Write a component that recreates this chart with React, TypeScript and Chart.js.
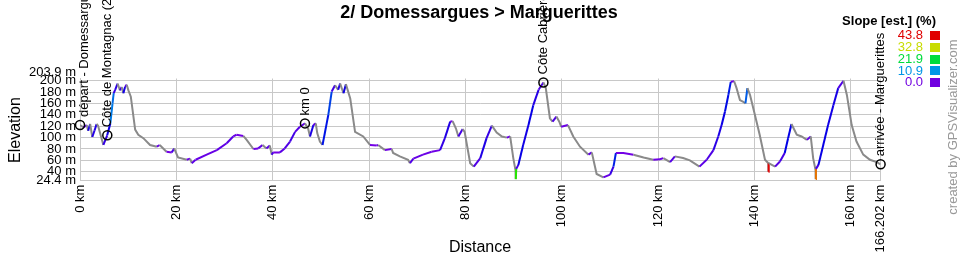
import { useEffect, useRef } from "react";
import { Chart, registerables } from "chart.js";

Chart.register(...registerables);

const TITLE = "2/ Domessargues > Marguerittes";
const X_TITLE = "Distance";
const Y_TITLE = "Elevation";
const LEGEND_TITLE = "Slope [est.] (%)";
const CREDIT = "created by GPSVisualizer.com";

// profile (km, m)
const distKm = [
  0, 0.7, 1.4, 1.7, 2.1, 2.55, 3.0, 3.45, 3.75, 4.85, 5.65, 6.3, 6.75, 7.0, 7.3, 7.8, 8.3, 8.65, 9.0, 9.35,
  9.7, 10.05, 10.55, 11.45, 12.1, 13.15, 14.55, 15.95, 16.55, 17.95, 19.05, 19.55, 20.35, 22.15, 22.85, 23.2, 24.0, 26.3, 28.4, 30.45,
  31.8, 32.5, 33.9, 34.6, 36.0, 37.0, 37.9, 38.7, 39.4, 39.8, 40.1, 41.5, 42.5, 43.6, 44.65, 45.65, 46.7, 47.35, 47.75, 48.45,
  48.95, 49.25, 49.8, 50.35, 51.55, 52.25, 52.95, 53.6, 54.0, 54.7, 55.2, 56.1, 57.1, 58.8, 60.2, 61.6, 61.9, 63.3, 64.7, 65.0,
  66.4, 68.1, 68.5, 69.2, 71.2, 73.0, 74.75, 75.75, 76.85, 77.35, 78.05, 78.55, 79.45, 79.85, 81.0, 81.75, 83.1, 84.4, 85.5, 86.5,
  87.6, 88.6, 89.3, 89.95, 90.4, 90.47, 90.56, 91.0, 92.0, 93.1, 94.1, 95.2, 96.2, 96.7, 97.55, 98.1, 98.9, 99.5, 99.9, 101.3,
  102.4, 103.8, 105.55, 106.25, 106.75, 107.25, 108.65, 110.05, 110.75, 111.25, 112.8, 114.9, 117.0, 119.0, 120.4, 121.1, 122.5, 123.5, 125.2, 126.6,
  128.6, 130.1, 131.5, 132.5, 133.2, 133.9, 134.6, 135.1, 135.8, 136.3, 137.0, 137.7, 138.15, 138.55, 139.1, 140.1, 141.1, 142.2, 142.9, 142.93,
  142.96, 144.3, 145.3, 146.3, 147.0, 147.7, 148.8, 149.8, 150.9, 151.7, 152.2, 152.7, 152.72, 152.78, 153.3, 154.3, 155.3, 156.4, 157.4, 158.5,
  159.2, 160.2, 161.2, 162.6, 164.0, 165.4, 166.202,
];
const elevM = [
  122, 118, 122, 112, 124, 101, 112, 124, 121, 87, 104, 125, 160, 178, 184, 195, 183, 189, 178, 189,
  193, 183, 172, 114, 105, 99, 87, 84, 87, 75, 74, 81, 65, 61, 63, 55, 61, 70, 78, 90,
  102, 105, 103, 96, 80, 81, 87, 81, 86, 70, 74, 74, 81, 93, 110, 119, 125, 116, 102, 122,
  125, 108, 93, 87, 140, 181, 192, 184, 195, 178, 194, 169, 110, 102, 87, 86, 87, 78, 80, 73,
  67, 61, 55, 63, 70, 75, 78, 99, 128, 129, 116, 102, 115, 110, 55, 49, 64, 99, 121, 109,
  102, 100, 102, 64, 43, 27, 45, 52, 87, 122, 157, 184, 197, 187, 134, 128, 137, 128, 119, 122,
  102, 84, 70, 74, 55, 36, 30, 35, 49, 73, 73, 70, 65, 61, 62, 64, 57, 67, 64, 60,
  49, 61, 78, 102, 122, 146, 175, 198, 199, 187, 166, 163, 160, 187, 175, 140, 105, 61, 55, 40,
  55, 49, 58, 73, 99, 124, 105, 102, 96, 102, 64, 43, 27, 45, 52, 87, 122, 157, 187, 200,
  175, 122, 93, 70, 61, 57, 53,
];

// waypoints
const wpNames = ["départ - Domessargues", "Côte de Montagnac (2)", "km 0", "Côte Cabrières", "arrivée - Marguerittes"];
const wpKm = [0, 5.67, 46.7, 96.2, 166.202];
const wpElev = [122, 104, 125, 197, 53];

// axes
const xTicks = [0, 20, 40, 60, 80, 100, 120, 140, 160, 166.202];
const yTicks = [24.4, 40, 60, 80, 100, 120, 140, 160, 180, 200, 203.9];
const X_MIN = 0;
const X_MAX = 166.202;
const Y_MIN = 24.4;
const Y_MAX = 203.9;

// slope legend
const slopeValues = [43.8, 32.8, 21.9, 10.9, 0.0];
const slopeColors = ["#e00000", "#c8dc00", "#00dc3c", "#0096e6", "#7000e0"];

const FF = "'Liberation Sans', Arial, Helvetica, sans-serif";
const GRID = "#c8c8c8";
const DESCENT = "#8a8a8a";

function slopeColor(x0: number, y0: number, x1: number, y1: number) {
  const dx = (x1 - x0) * 1000;
  if (dx <= 0) return DESCENT;
  const s = ((y1 - y0) / dx) * 100;
  if (s < -0.15) return DESCENT;
  const v = Math.min(43.8, Math.max(0, s * 1.3));
  const hue = 270 * (1 - v / 43.8);
  return `hsl(${hue.toFixed(0)},100%,45%)`;
}

const overlay = {
  id: "overlay",
  afterDraw(chart: any) {
    const ctx = chart.ctx;
    const xs = chart.scales.x;
    const ys = chart.scales.y;
    ctx.save();
    ctx.fillStyle = "#000";
    ctx.textAlign = "center";
    ctx.textBaseline = "middle";
    ctx.font = `bold 18px ${FF}`;
    ctx.fillText(TITLE, 479, 13);

    ctx.font = `16px ${FF}`;
    ctx.fillText(X_TITLE, 480, 248);
    ctx.save();
    ctx.translate(16, 130);
    ctx.rotate(-Math.PI / 2);
    ctx.fillText(Y_TITLE, 0, 0);
    ctx.restore();

    // top elevation label, lifted above the 200 m label as in the original
    ctx.textAlign = "right";
    ctx.font = `13px ${FF}`;
    ctx.fillText(Y_MAX.toFixed(1) + " m", chart.chartArea.left - 4, ys.getPixelForValue(Y_MAX) - 6);

    ctx.font = `bold 13px ${FF}`;
    ctx.fillText(LEGEND_TITLE, 936, 21);
    ctx.font = `13px ${FF}`;
    slopeValues.forEach((v, i) => {
      const y = 35.7 + i * 11.75;
      ctx.fillStyle = slopeColors[i];
      ctx.fillText(v.toFixed(1), 923, y);
      ctx.fillRect(930, Math.round(y - 4.5), 10, 9);
    });

    ctx.save();
    ctx.translate(953, 127);
    ctx.rotate(-Math.PI / 2);
    ctx.textAlign = "center";
    ctx.fillStyle = "#999";
    ctx.font = `13px ${FF}`;
    ctx.fillText(CREDIT, 0, 0);
    ctx.restore();

    ctx.fillStyle = "#000";
    ctx.font = `13px ${FF}`;
    ctx.textAlign = "left";
    wpNames.forEach((name, i) => {
      const px = Math.max(xs.getPixelForValue(wpKm[i]), chart.chartArea.left + 4.5);
      const py = ys.getPixelForValue(wpElev[i]);
      ctx.save();
      ctx.translate(px, py - 8);
      ctx.rotate(-Math.PI / 2);
      ctx.fillText(name, 0, 0);
      ctx.restore();
    });
    ctx.restore();
  },
};

export default function App() {
  const ref = useRef<HTMLCanvasElement>(null);
  useEffect(() => {
    document.body.style.margin = "0";
    const profile = distKm.map((x, i) => ({ x, y: elevM[i] }));
    const wps = wpKm.map((x, i) => ({ x, y: wpElev[i] }));
    const chart = new Chart(ref.current as HTMLCanvasElement, {
      type: "line",
      data: {
        datasets: [
          {
            data: wps,
            showLine: false,
            pointRadius: 4.5,
            pointBorderWidth: 1.5,
            pointBorderColor: "#000",
            pointBackgroundColor: "rgba(0,0,0,0)",
            clip: false,
          } as any,
          {
            data: profile,
            borderWidth: 2,
            pointRadius: 0,
            tension: 0,
            borderColor: DESCENT,
            segment: {
              borderColor: (c: any) => slopeColor(c.p0.parsed.x, c.p0.parsed.y, c.p1.parsed.x, c.p1.parsed.y),
            },
          } as any,
        ],
      },
      options: {
        responsive: false,
        animation: false,
        devicePixelRatio: 1,
        layout: { padding: { top: 78.5, right: 79.4, left: 0, bottom: 0 } },
        plugins: { legend: { display: false }, tooltip: { enabled: false }, title: { display: false } },
        scales: {
          x: {
            type: "linear",
            min: X_MIN,
            max: X_MAX,
            afterBuildTicks: (s: any) => {
              s.ticks = xTicks.map((v) => ({ value: v }));
            },
            afterFit: (s: any) => {
              s.height = 79.4;
            },
            ticks: {
              autoSkip: false,
              minRotation: 90,
              maxRotation: 90,
              padding: 4,
              color: "#000",
              font: { family: FF, size: 13 },
              callback: (v: any) => (v === X_MAX ? "166.202" : String(v)) + " km",
            },
            grid: { color: GRID, drawTicks: false, lineWidth: 1 },
            border: { color: GRID },
          },
          y: {
            type: "linear",
            min: Y_MIN,
            max: Y_MAX,
            afterBuildTicks: (s: any) => {
              s.ticks = yTicks.map((v) => ({ value: v }));
            },
            afterFit: (s: any) => {
              s.width = 80;
            },
            ticks: {
              autoSkip: false,
              padding: 4,
              color: "#000",
              font: { family: FF, size: 13 },
              callback: (v: any) =>
                v === Y_MAX ? "" : (Number.isInteger(v) ? String(v) : Number(v).toFixed(1)) + " m",
            },
            grid: {
              color: (c: any) => (c.tick && c.tick.value === Y_MAX ? "rgba(0,0,0,0)" : GRID),
              drawTicks: false,
              lineWidth: 1,
            },
            border: { color: GRID },
          },
        },
      } as any,
      plugins: [overlay],
    });
    return () => chart.destroy();
  }, []);
  return (
    <div style={{ width: 960, height: 260, position: "relative", background: "#fff" }}>
      <canvas ref={ref} width={960} height={260} style={{ display: "block" }} />
    </div>
  );
}
